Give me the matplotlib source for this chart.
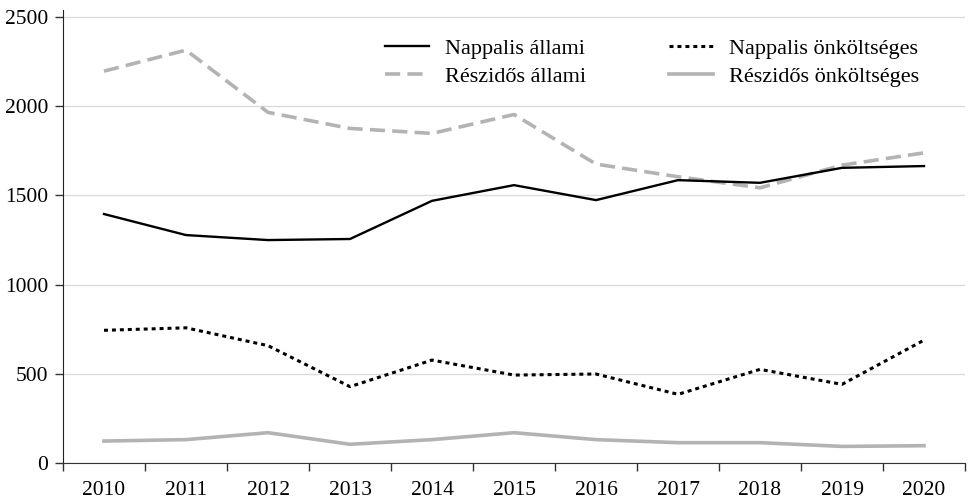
import matplotlib.pyplot as plt
import numpy as np

plt.rcParams['font.family'] = ['Liberation Serif', 'DejaVu Serif']

years = ['2010', '2011', '2012', '2013', '2014', '2015', '2016', '2017', '2018', '2019', '2020']
nappalis_allami = [1396, 1278, 1250, 1256, 1470, 1558, 1474, 1586, 1571, 1655, 1665]
reszidos_allami = [2197, 2315, 1966, 1876, 1848, 1954, 1676, 1605, 1543, 1670, 1739]
nappalis_onk = [744, 758, 658, 428, 577, 493, 499, 385, 525, 441, 689]
reszidos_onk = [123, 131, 170, 105, 131, 170, 131, 114, 114, 93, 97]

gray = '#b3b3b3'
x = np.arange(len(years))

fig = plt.figure(figsize=(9.72, 5.01), dpi=100)
ax = fig.add_axes([63/972, 1-463/501, 902/972, (463-10)/501])

ax.plot(x, nappalis_allami, color='black', lw=1.7, label='Nappalis állami', zorder=4)
ax.plot(x, reszidos_allami, color=gray, lw=2.6, dashes=(4.2, 2.0), label='Részidős állami', zorder=3)
ax.plot(x, nappalis_onk, color='black', lw=2.2, dashes=(1.3, 1.3), label='Nappalis önköltséges', zorder=4)
ax.plot(x, reszidos_onk, color=gray, lw=2.6, label='Részidős önköltséges', zorder=3)

ax.set_xlim(-0.5, len(years) - 0.5)
ax.set_ylim(0, 2540)
ax.set_yticks([0, 500, 1000, 1500, 2000, 2500])
ax.yaxis.grid(True, color='#dcdcdc', lw=1)
ax.set_axisbelow(True)

ax.set_xticks(np.arange(len(years) + 1) - 0.5)
ax.set_xticklabels([])
ax.set_xticks(x, minor=True)
ax.set_xticklabels(years, minor=True)
ax.tick_params(axis='x', which='major', length=5.5, width=1, direction='out', color='#333333')
ax.tick_params(axis='x', which='minor', length=0, pad=13, labelsize=15.5)
ax.tick_params(axis='y', length=5.5, width=1, pad=5, labelsize=15.5, color='#333333')

for s in ['top', 'right']:
    ax.spines[s].set_visible(False)
ax.spines['left'].set_color('#222222')
ax.spines['bottom'].set_color('#333333')

ax.legend(ncol=2, frameon=False, fontsize=16, loc='upper left',
          bbox_to_anchor=(385/972, 1-38/501), bbox_transform=fig.transFigure,
          borderpad=0, borderaxespad=0, handlelength=2.0, handletextpad=0.72,
          columnspacing=3.7, labelspacing=0.36)

fig.savefig('out.png', dpi=100)
